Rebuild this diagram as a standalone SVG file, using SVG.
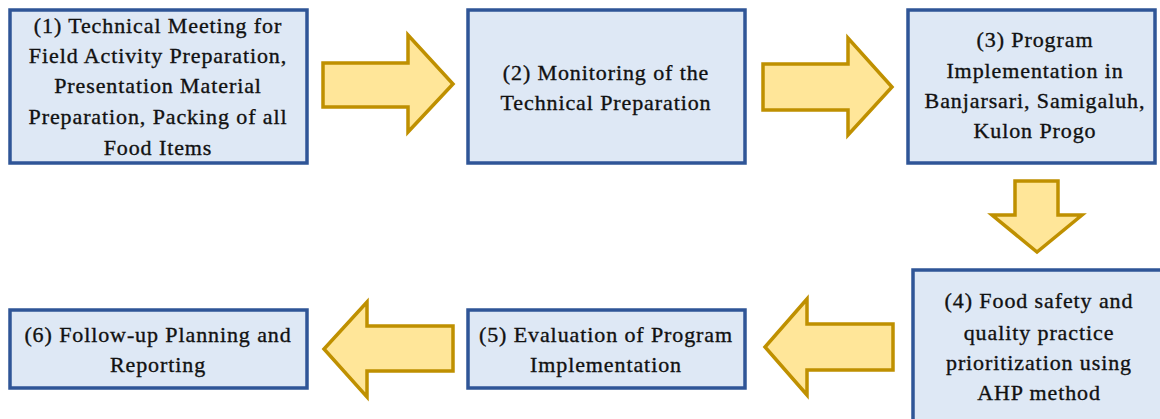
<svg xmlns="http://www.w3.org/2000/svg" width="1160" height="419" viewBox="0 0 1160 419">
  <style>
    .box { fill: #dee8f5; stroke: #2f5597; stroke-width: 3.5; }
    .arrow { fill: #ffe699; stroke: #bf9000; stroke-width: 3.5; stroke-linejoin: miter; }
    .label { font-family: "Liberation Serif", "Times New Roman", serif; font-size: 22px; letter-spacing: 0.9px; fill: #111; stroke: #111; stroke-width: 0.35; text-anchor: middle; }
  </style>
  <rect width="1160" height="419" fill="#ffffff"/>

  <g id="connectors">
    <!-- 1 -> 2 -->
    <path class="arrow" d="M323,63 L408,63 L408,35 L453,84 L408,132 L408,107 L323,107 Z"/>
    <!-- 2 -> 3 -->
    <path class="arrow" d="M763,64 L848,64 L848,38 L892,87 L848,135 L848,110 L763,110 Z"/>
    <!-- 3 -> 4 -->
    <path class="arrow" d="M1015,181 L1058,181 L1058,215 L1082,215 L1037,252 L992,215 L1015,215 Z"/>
    <!-- 4 -> 5 -->
    <path class="arrow" d="M893,324 L807,324 L807,299 L765,347 L807,395 L807,370 L893,370 Z"/>
    <!-- 5 -> 6 -->
    <path class="arrow" d="M453,326 L367,326 L367,302 L324,349 L367,397 L367,371 L453,371 Z"/>
  </g>

  <g id="node1">
    <rect class="box" x="10" y="10" width="297" height="153"/>
    <text class="label" x="158" y="33">(1) Technical Meeting for</text>
    <text class="label" x="158" y="63">Field Activity Preparation,</text>
    <text class="label" x="158" y="93">Presentation Material</text>
    <text class="label" x="158" y="124">Preparation, Packing of all</text>
    <text class="label" x="158" y="155">Food Items</text>
  </g>

  <g id="node2">
    <rect class="box" x="468" y="10" width="277" height="153"/>
    <text class="label" x="606" y="80">(2) Monitoring of the</text>
    <text class="label" x="606" y="110">Technical Preparation</text>
  </g>

  <g id="node3">
    <rect class="box" x="908" y="10" width="247" height="153"/>
    <text class="label" x="1035" y="47">(3) Program</text>
    <text class="label" x="1035" y="78">Implementation in</text>
    <text class="label" x="1035" y="108">Banjarsari, Samigaluh,</text>
    <text class="label" x="1035" y="138">Kulon Progo</text>
  </g>

  <g id="node4">
    <rect class="box" x="913" y="270" width="260" height="170"/>
    <text class="label" x="1039" y="308">(4) Food safety and</text>
    <text class="label" x="1039" y="340">quality practice</text>
    <text class="label" x="1039" y="370">prioritization using</text>
    <text class="label" x="1039" y="400">AHP method</text>
  </g>

  <g id="node5">
    <rect class="box" x="468" y="310" width="277" height="78"/>
    <text class="label" x="606" y="342">(5) Evaluation of Program</text>
    <text class="label" x="606" y="372">Implementation</text>
  </g>

  <g id="node6">
    <rect class="box" x="10" y="310" width="297" height="78"/>
    <text class="label" x="158" y="342">(6) Follow-up Planning and</text>
    <text class="label" x="158" y="372">Reporting</text>
  </g>
</svg>
